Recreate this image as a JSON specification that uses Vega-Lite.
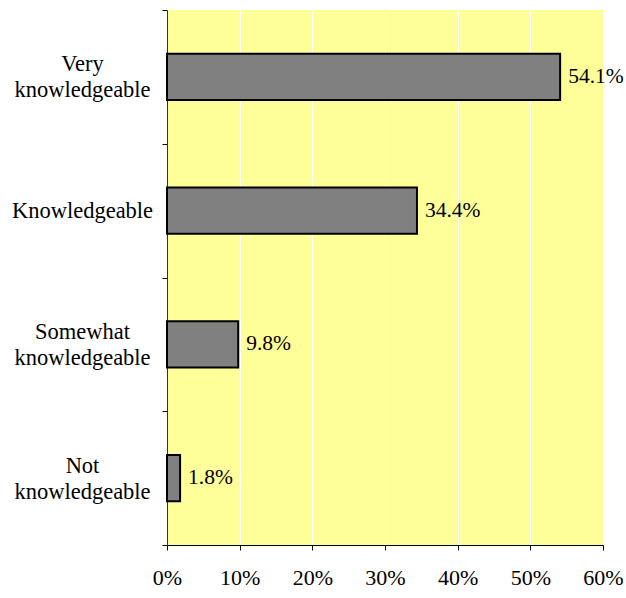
{
  "$schema": "https://vega.github.io/schema/vega-lite/v6.json",
  "width": 436,
  "height": 535,
  "autosize": {"type": "none"},
  "padding": {"left": 167, "top": 10, "right": 23, "bottom": 53},
  "background": "white",
  "config": {
    "view": {"fill": "#FFFF99", "stroke": null},
    "font": "Liberation Serif"
  },
  "data": {
    "values": [
      {"category": "Very knowledgeable", "share": 0.541},
      {"category": "Knowledgeable", "share": 0.344},
      {"category": "Somewhat knowledgeable", "share": 0.098},
      {"category": "Not knowledgeable", "share": 0.018}
    ]
  },
  "encoding": {
    "y": {
      "field": "category",
      "type": "nominal",
      "sort": null,
      "scale": {"paddingInner": 0, "paddingOuter": 0},
      "axis": {
        "title": null,
        "tickBand": "extent",
        "tickSize": 5,
        "tickColor": "black",
        "domainColor": "#333333",
        "labelFont": "Liberation Serif",
        "labelFontSize": 22.5,
        "labelColor": "black",
        "labelAlign": "center",
        "labelBaseline": "middle",
        "labelPadding": 80,
        "labelLineHeight": 26,
        "labelExpr": "!isString(datum.value) ? '' : (datum.value == 'Knowledgeable' ? datum.value : split(datum.value, ' '))",
        "labelOffset": {"condition": {"test": "datum.value == 'Knowledgeable'", "value": 0}, "value": -13},
        "grid": false
      }
    },
    "x": {
      "field": "share",
      "type": "quantitative",
      "scale": {"domain": [0, 0.6], "nice": false},
      "axis": {
        "title": null,
        "values": [0, 0.1, 0.2, 0.3, 0.4, 0.5, 0.6],
        "format": ".0%",
        "grid": true,
        "gridColor": "white",
        "gridWidth": 1,
        "gridOpacity": 1,
        "tickSize": 5,
        "tickColor": "black",
        "domainColor": "black",
        "labelFont": "Liberation Serif",
        "labelFontSize": 22,
        "labelColor": "black",
        "labelPadding": 17,
        "labelFlush": false
      }
    }
  },
  "layer": [
    {
      "mark": {
        "type": "bar",
        "height": {"band": 0.345},
        "fill": "#808080",
        "stroke": "black",
        "strokeWidth": 2
      }
    },
    {
      "mark": {
        "type": "text",
        "align": "left",
        "baseline": "middle",
        "dx": 8,
        "font": "Liberation Serif",
        "fontSize": 21.5,
        "color": "black"
      },
      "encoding": {
        "text": {"field": "share", "type": "quantitative", "format": ".1%"}
      }
    }
  ]
}
